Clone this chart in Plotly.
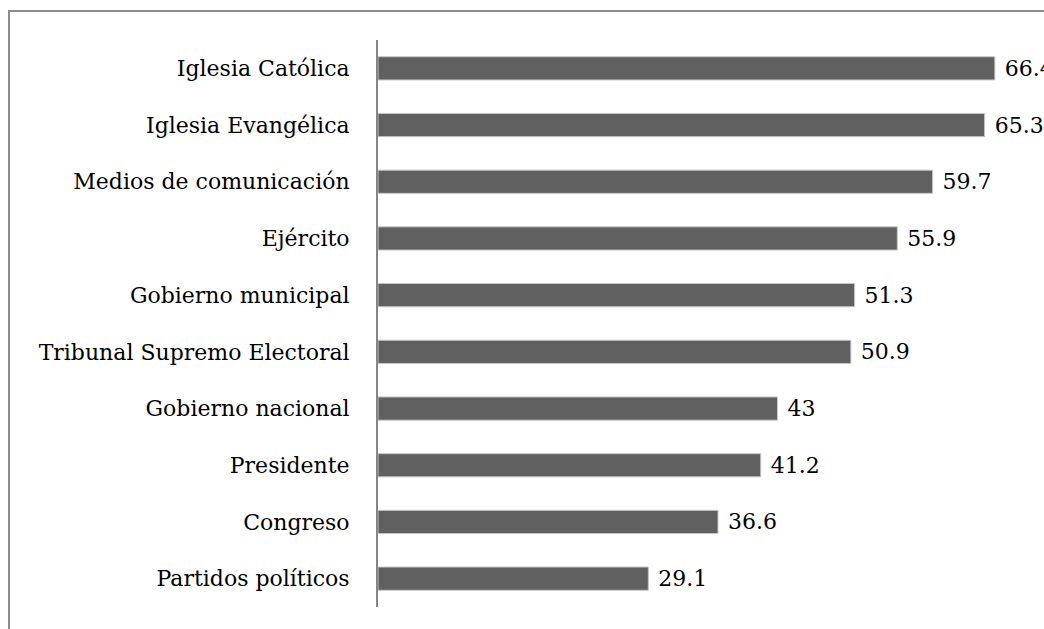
import plotly.graph_objects as go

categories = ["Iglesia Católica", "Iglesia Evangélica", "Medios de comunicación", "Ejército",
              "Gobierno municipal", "Tribunal Supremo Electoral", "Gobierno nacional",
              "Presidente", "Congreso", "Partidos políticos"]
values = [66.4, 65.3, 59.7, 55.9, 51.3, 50.9, 43, 41.2, 36.6, 29.1]
labels = ["66.4", "65.3", "59.7", "55.9", "51.3", "50.9", "43", "41.2", "36.6", "29.1"]

FONT = "DejaVu Serif"
FS = 22

W, H = 1044, 629
L, T, B = 378, 40, 22
PW = W - L
PH = H - T - B
PXU = 9.29  # pixels per unit

fig = go.Figure(go.Bar(
    y=categories, x=values, orientation="h",
    text=labels, texttemplate=" %{text}", textposition="outside",
    cliponaxis=False, constraintext="none",
    textfont=dict(family=FONT, size=FS, color="#000000"),
    marker=dict(color="#606060", line=dict(color="#c8c8c8", width=1)),
    width=0.41,
))

fig.update_layout(
    width=W, height=H,
    margin=dict(l=L, r=0, t=T, b=B),
    paper_bgcolor="white", plot_bgcolor="white",
    showlegend=False,
    xaxis=dict(range=[0, PW / PXU], visible=False, fixedrange=True),
    yaxis=dict(autorange="reversed", showline=True, linecolor="#868686", linewidth=2,
               ticks="", showgrid=False, ticklabelstandoff=22,
               tickfont=dict(family=FONT, size=FS, color="#000000")),
    shapes=[dict(type="rect", xref="paper", yref="paper",
                 x0=(9 - L) / PW, x1=1.2, y0=-0.2, y1=(PH + T - 11) / PH,
                 line=dict(color="#8c8c8c", width=2), fillcolor="rgba(0,0,0,0)", layer="below")],
)

fig.write_html("out.html",
               config={"displayModeBar": False},
               post_script="document.body.style.margin='0';document.body.style.overflow='hidden';")
